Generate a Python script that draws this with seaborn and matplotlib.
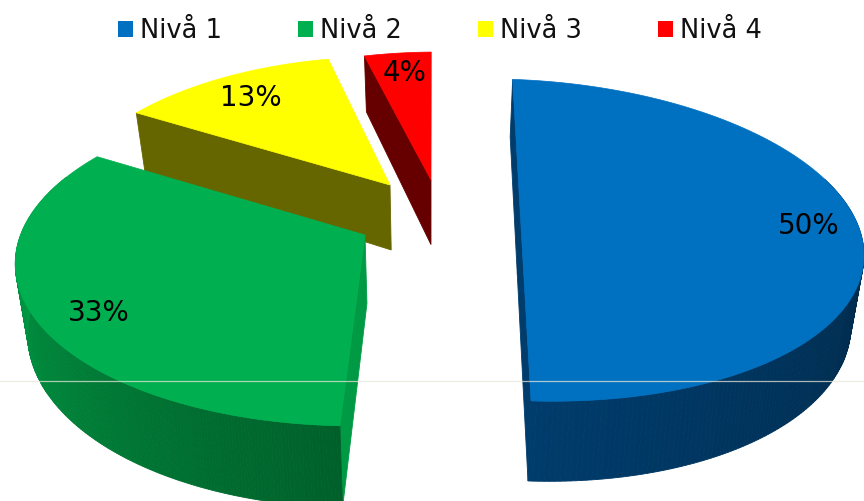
import numpy as np
import matplotlib
matplotlib.use('Agg')
import matplotlib.pyplot as plt
import matplotlib.colors as mcolors
from matplotlib.patches import Patch, Polygon
import seaborn as sns

levels = ['Nivå 1', 'Nivå 2', 'Nivå 3', 'Nivå 4']
shares = [50, 33, 13, 4]
colors = ['#0070c0', '#00b050', '#ffff00', '#ff0000']
side_colors = ['#003c6c', '#009a44', '#666600', '#660000']

# look of the fake 3d: apex, radii, perspective, tilt, skew, per slice
apex = [(520, 208), (365, 235), (390, 185), (431, 180)]
radius_x = [337, 339, 325, 333]
radius_y = [154, 160, 160, 160]
persp = [0.20, 0.16, 0.25, 0.25]
tilt = [15, 12, 8, 0]
skew = [0, -30, -13, -9]
label_pos = [(809, 226), (99, 313), (251, 98), (405, 73)]
start_angle = -1.5

sns.set_theme(style='white')
plt.rcParams['font.family'] = ['DejaVu Sans']


def top_point(i, theta):
    # theta is clockwise from the back of the pie, degrees
    t = np.radians(theta)
    x_unit, z_unit = np.sin(t), -np.cos(t)
    s = 1 / (1 - persp[i] * z_unit)
    x = apex[i][0] + (radius_x[i] * x_unit + skew[i] * z_unit) * s
    y = apex[i][1] + (radius_y[i] * z_unit + tilt[i] * x_unit) * s
    return np.column_stack([x, y])


def drop(pts):
    # same points on the lower face of the slice
    out = pts.copy()
    out[:, 0] += 0.03 * (430 - pts[:, 0])
    out[:, 1] += 52 + 0.07 * pts[:, 1]
    return out


def draw_side(ax, pts, color, z):
    low = drop(pts)
    poly = np.vstack([pts, low[::-1]])
    ax.add_patch(Polygon(poly, closed=True, facecolor=color, edgecolor=color, lw=0.6, zorder=z))


fig, ax = plt.subplots(figsize=(8.64, 5.01), dpi=100)
fig.subplots_adjust(0, 0, 1, 1)
ax.set_xlim(0, 864)
ax.set_ylim(501, 0)
ax.axis('off')

edges = start_angle + np.cumsum([0] + shares) / sum(shares) * 360

for i in [3, 2, 0, 1]:
    a0, a1 = edges[i], edges[i + 1]
    z = 2 + [3, 2, 0, 1].index(i) * 3
    center = np.array([apex[i]], dtype=float)
    arc = top_point(i, np.linspace(a0, a1, 240))

    # cut faces
    draw_side(ax, np.vstack([arc[:1], center]), side_colors[i], z)
    if i == 0:
        draw_side(ax, np.vstack([center, arc[-1:]]), side_colors[i], z)

    # rim, shaded in short strips
    if i in (0, 1):
        front = mcolors.to_rgb('#003c6c') if i == 0 else mcolors.to_rgb('#00602a')
        far = mcolors.to_rgb('#002c4e') if i == 0 else mcolors.to_rgb('#009a44')
        span = 70 if i == 0 else 88
        for j in range(len(arc) - 1):
            theta = a0 + (a1 - a0) * j / (len(arc) - 1)
            w = min(abs(theta - edges[1]) / span, 1)
            col = tuple((1 - w) * np.array(front) + w * np.array(far))
            if np.cos(np.radians(theta)) < 0.3:
                draw_side(ax, arc[j:j + 2], col, z + 1)

    ax.add_patch(Polygon(np.vstack([center, arc]), closed=True, facecolor=colors[i],
                         edgecolor=colors[i], lw=0.5, zorder=z + 2))
    ax.text(label_pos[i][0], label_pos[i][1], f'{shares[i]}%', fontsize=20, color='black',
            ha='center', va='center', zorder=30)

ax.axhline(380.5, color='#e6e6da', lw=0.9, alpha=0.75, zorder=25)

handles = [Patch(facecolor=c, edgecolor='none') for c in colors]
ax.legend(handles, levels, ncol=4, loc='upper center', bbox_to_anchor=(0.509, 0.999), frameon=False,
          fontsize=18.5, labelcolor='#111111', handlelength=0.58, handleheight=0.58,
          handletextpad=0.27, columnspacing=2.96, borderpad=0.2)

plt.savefig('out.png', dpi=100)
plt.close()
